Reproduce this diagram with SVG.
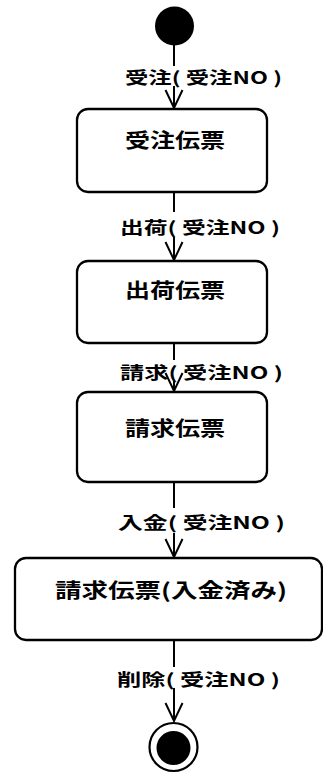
<svg xmlns="http://www.w3.org/2000/svg" width="323" height="773" viewBox="0 0 323 773">
<style>
.box{fill:#fff;stroke:#000;stroke-width:2.3}
.lbl{font-family:"Noto Sans CJK JP","Noto Sans CJK SC",sans-serif;font-weight:bold;font-size:17px;fill:#000;dominant-baseline:central}
.nt{font-family:"Noto Sans CJK JP","Noto Sans CJK SC",sans-serif;font-weight:bold;font-size:20px;fill:#000;dominant-baseline:central}
.ln{stroke:#000;stroke-width:2;fill:none}
</style>
<defs>
<marker id="arr" markerUnits="userSpaceOnUse" viewBox="-20 -10 22 20" markerWidth="22" markerHeight="20" refX="0" refY="0" orient="auto" overflow="visible">
<path d="M-18,-8.5 L0,0 L-18,8.5" fill="none" stroke="#000" stroke-width="2"/>
</marker>
</defs>
<g id="connectors">
<line class="ln" x1="174" y1="45" x2="174" y2="66"/>
<line class="ln" x1="174" y1="86" x2="174" y2="108" marker-end="url(#arr)"/>
<line class="ln" x1="174" y1="192" x2="174" y2="212"/>
<line class="ln" x1="174" y1="237" x2="174" y2="260" marker-end="url(#arr)"/>
<line class="ln" x1="174" y1="343" x2="174" y2="360"/>
<line class="ln" x1="174" y1="380" x2="174" y2="391" marker-end="url(#arr)"/>
<line class="ln" x1="174" y1="482" x2="174" y2="508"/>
<line class="ln" x1="174" y1="533" x2="174" y2="557" marker-end="url(#arr)"/>
<line class="ln" x1="174" y1="640" x2="174" y2="667"/>
<line class="ln" x1="174" y1="688" x2="174" y2="721" marker-end="url(#arr)"/>
<text class="lbl" x="125" y="76" textLength="157" lengthAdjust="spacingAndGlyphs">受注( 受注NO )</text>
<text class="lbl" x="120" y="226" textLength="160" lengthAdjust="spacingAndGlyphs">出荷( 受注NO )</text>
<text class="lbl" x="120" y="371" textLength="163" lengthAdjust="spacingAndGlyphs">請求( 受注NO )</text>
<text class="lbl" x="118" y="521" textLength="167" lengthAdjust="spacingAndGlyphs">入金( 受注NO )</text>
<text class="lbl" x="117" y="678" textLength="163" lengthAdjust="spacingAndGlyphs">削除( 受注NO )</text>
</g>
<g id="start">
<circle cx="174.5" cy="26" r="19.5" fill="#000"/>
</g>
<g id="n1">
<rect class="box" x="77" y="109" width="190" height="83" rx="11"/>
<text class="nt" x="125" y="139" textLength="100" lengthAdjust="spacingAndGlyphs">受注伝票</text>
</g>
<g id="n2">
<rect class="box" x="77" y="261" width="190" height="82" rx="11"/>
<text class="nt" x="125" y="289" textLength="100" lengthAdjust="spacingAndGlyphs">出荷伝票</text>
</g>
<g id="n3">
<rect class="box" x="77" y="392" width="190" height="90" rx="11"/>
<text class="nt" x="125" y="427" textLength="100" lengthAdjust="spacingAndGlyphs">請求伝票</text>
</g>
<g id="n4">
<rect class="box" x="15" y="558" width="307" height="82" rx="11"/>
<text class="nt" x="55" y="589" textLength="232" lengthAdjust="spacingAndGlyphs">請求伝票(入金済み)</text>
</g>
<g id="end">
<circle cx="173.5" cy="747" r="24" fill="#fff" stroke="#000" stroke-width="2.2"/>
<circle cx="173.5" cy="748" r="17" fill="#000"/>
</g>
</svg>
